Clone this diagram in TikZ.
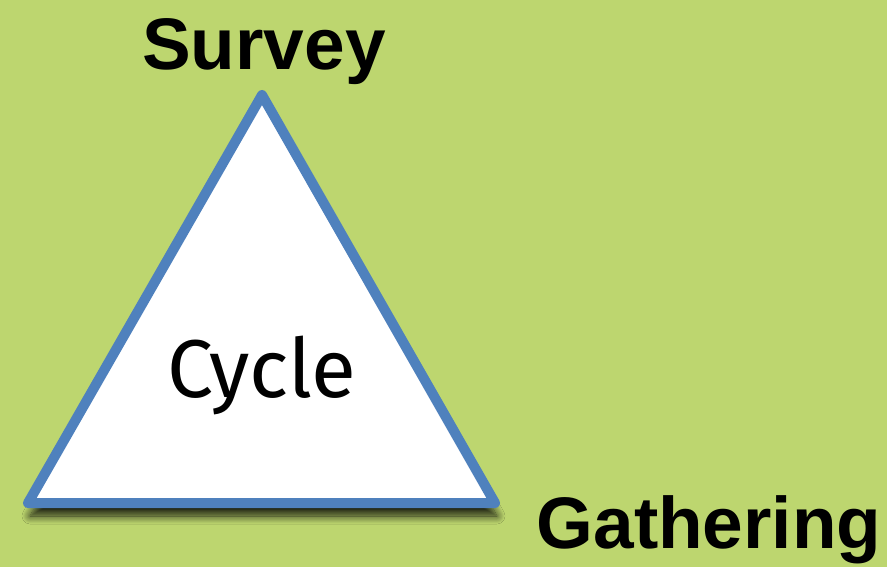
\documentclass[tikz,border=0pt]{standalone}
\usepackage{fontspec}
\setmainfont{Liberation Sans}
\newfontfamily\cyclefont{Fira Sans}
\usetikzlibrary{shadows.blur}
\definecolor{bggreen}{HTML}{BDD66F}
\definecolor{edgeblue}{HTML}{4F81BD}

\begin{document}
\begin{tikzpicture}[x=1pt,y=-1pt,
	corner/.style={font=\fontsize{73}{80}\selectfont\bfseries, anchor=base, inner sep=0pt}]

	\fill[bggreen] (0,0) rectangle (887,567);
	\useasboundingbox (0,0) rectangle (887,567);

	\coordinate (top) at (262,95);
	\coordinate (left) at (28,503);
	\coordinate (right) at (495,503);

	\draw[edgeblue, line width=10pt, line join=round, fill=white,
		blur shadow={shadow xshift=2pt, shadow yshift=-13pt, shadow blur radius=8pt, shadow blur steps=12, shadow opacity=85}]
		(top) -- (left) -- (right) -- cycle;

	\node[corner] (survey) at (264,70) {Survey};
	\node[corner] (gathering) at (709,548) {Gathering};
	\node[anchor=base, inner sep=0pt, font=\cyclefont\fontsize{82}{90}\selectfont] (cyc) at (262,397) {Cycle};

\end{tikzpicture}
\end{document}
